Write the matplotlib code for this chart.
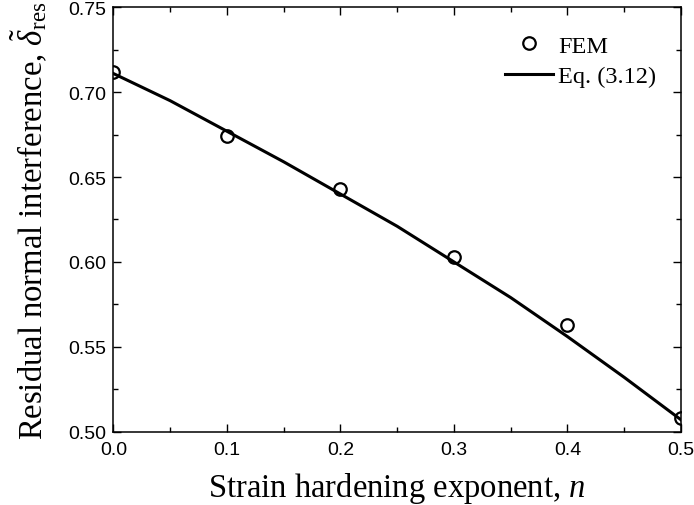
import matplotlib
matplotlib.use("Agg")
import matplotlib.pyplot as plt
from matplotlib.ticker import MultipleLocator, FormatStrFormatter

# Data
fem_n = [0.0, 0.1, 0.2, 0.3, 0.4, 0.5]
fem_delta = [0.712, 0.674, 0.643, 0.603, 0.563, 0.508]

eq_n = [0.0, 0.05, 0.1, 0.15, 0.2, 0.25, 0.3, 0.35, 0.4, 0.45, 0.5]
eq_delta = [0.711, 0.695, 0.677, 0.659, 0.640, 0.621, 0.600, 0.579, 0.556, 0.532, 0.507]

plt.rcParams['mathtext.fontset'] = 'custom'
plt.rcParams['mathtext.rm'] = 'Liberation Serif'
plt.rcParams['mathtext.it'] = 'Liberation Serif:italic'

fig = plt.figure(figsize=(6.94, 5.06), dpi=100)
ax = fig.add_axes([0.1633, 0.1449, 0.8180, 0.8387])

ax.plot(fem_n, fem_delta, 'o', mfc='none', mec='black', ms=9, mew=1.6,
        label='FEM', zorder=3)
ax.plot(eq_n, eq_delta, '-', color='black', lw=2.2, label='Eq. (3.12)')

ax.set_xlim(0.0, 0.5)
ax.set_ylim(0.50, 0.75)
ax.xaxis.set_major_locator(MultipleLocator(0.1))
ax.xaxis.set_minor_locator(MultipleLocator(0.05))
ax.yaxis.set_major_locator(MultipleLocator(0.05))
ax.yaxis.set_minor_locator(MultipleLocator(0.025))
ax.xaxis.set_major_formatter(FormatStrFormatter('%.1f'))
ax.yaxis.set_major_formatter(FormatStrFormatter('%.2f'))

ax.tick_params(which='both', direction='in', top=True, right=True, width=1,
               labelsize=14)
ax.tick_params(which='major', length=6)
ax.tick_params(axis='x', which='major', pad=7)
ax.tick_params(axis='y', which='major', pad=5)
ax.tick_params(which='minor', length=3.5)
for lab in ax.get_xticklabels() + ax.get_yticklabels():
    lab.set_fontfamily('Liberation Sans')
for s in ax.spines.values():
    s.set_linewidth(1.1)

ax.set_xlabel('Strain hardening exponent, $\\mathit{n}$',
              fontfamily='Liberation Serif', fontsize=23.5, labelpad=8)
ax.set_ylabel('Residual normal interference, $\\tilde{\\delta}_{\\rm res}$',
              fontfamily='Liberation Serif', fontsize=23.5, labelpad=14)

leg = ax.legend(loc='upper right', bbox_to_anchor=(0.9736, 0.958),
                frameon=False,
                prop={'family': 'Liberation Serif', 'size': 17.5},
                handlelength=2.0, handletextpad=0.2, labelspacing=0.35,
                borderaxespad=0.0)

fig.savefig('out.png', dpi=100)
